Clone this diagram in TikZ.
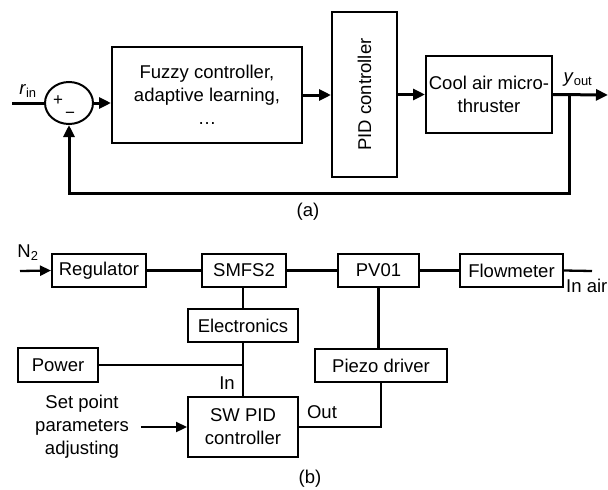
\documentclass[tikz,border=0pt]{standalone}
\usepackage{fontspec}
\setmainfont{Liberation Sans}
\usetikzlibrary{positioning, arrows.meta, shapes.geometric}

\tikzset{
	block/.style={draw, line width=2pt, inner sep=0pt, align=center, font=\fontsize{18.5}{23}\selectfont},
	lbl/.style={inner sep=0pt, font=\fontsize{18.5}{23}\selectfont},
	sig/.style={line width=3pt, -{Triangle[length=12pt,width=11pt]}},
	pipe/.style={line width=2.3pt},
}

\begin{document}
\begin{tikzpicture}[x=1pt, y=-1pt]
	\useasboundingbox (0,0) rectangle (608,490);

		% nodes - for loop (a) %
		\node[draw, ellipse, line width=2pt, minimum width=48pt, minimum height=42pt, inner sep=0pt] (sum) at (69,103) {};
		\node[lbl, font=\fontsize{17}{17}\selectfont] (plus) at (58,101) {+};
		\node[lbl, font=\fontsize{17}{17}\selectfont] (minus) at (70,115) {−};
		\node[block, minimum width=190pt, minimum height=96pt] (fuzzy) at (207,95) {Fuzzy controller,\\adaptive learning,\\…};
		\node[block, minimum width=65pt, minimum height=165pt] (pid) at (364.5,94.5) {};
		\node[lbl, rotate=90] (pidtext) at (pid.center) {PID controller};
		\node[block, minimum width=126pt, minimum height=77pt] (cool) at (489,94.5) {Cool air micro-\\thruster};
		\node[lbl] (rin) at (28,91) {\textit{r}\textsubscript{in}};
		\node[lbl] (yout) at (578,80) {\textit{y}\textsubscript{out}};
		\node[lbl] (capa) at (308,212) {(a)};
		\coordinate (start) at (12,103);
		\coordinate (end) at (608,95);
		\coordinate (fb) at (569,95);
		\coordinate (fbdown) at (569,193);

		% edges %
		\draw[line width=3pt] (start) -- (sum.west);
		\draw[sig] (sum.east) -- (sum.east -| fuzzy.west);
		\draw[sig] (fuzzy.east) -- (pid.west |- fuzzy.east);
		\draw[sig] (pid.east |- cool.west) -- (cool.west);
		\draw[sig] (cool.east) -- (end);
		\draw[sig] (fb) -- (fbdown) -| (sum.south);

		% nodes - for set-up (b) %
		\node[block, minimum width=94pt, minimum height=33pt] (reg) at (99,270.5) {Regulator};
		\node[block, minimum width=84pt, minimum height=33pt] (smfs) at (244,270.5) {SMFS2};
		\node[block, minimum width=81pt, minimum height=33pt] (pv) at (378.5,270.5) {PV01};
		\node[block, minimum width=103pt, minimum height=33pt] (flow) at (511.5,270.5) {Flowmeter};
		\node[block, minimum width=110pt, minimum height=33pt] (elec) at (243,325.5) {Electronics};
		\node[block, minimum width=80pt, minimum height=34pt] (power) at (58,365) {Power};
		\node[block, minimum width=132pt, minimum height=33pt] (piezo) at (381,365.5) {Piezo driver};
		\node[block, minimum width=110pt, minimum height=60pt] (swpid) at (243,427) {SW PID\\controller};
		\node[lbl, align=center] (setpt) at (82,427) {Set point\\parameters\\adjusting};
		\node[lbl] (ntwo) at (28,253) {N\textsubscript{2}};
		\node[lbl, anchor=west] (inair) at (566,286) {In air};
		\node[lbl] (inlbl) at (227,383) {In};
		\node[lbl] (outlbl) at (322,412) {Out};
		\node[lbl] (capb) at (310,479) {(b)};
		\coordinate (gas) at (20,271);
		\coordinate (air) at (592,271);

		% edges %
		\draw[pipe, -{Triangle[length=11pt,width=10pt]}] (gas) -- (reg.west);
		\draw[pipe] (reg.east) -- (smfs.west);
		\draw[pipe] (smfs.east) -- (pv.west);
		\draw[pipe] (pv.east) -- (flow.west);
		\draw[pipe] (flow.east) -- (air);
		\draw[pipe] (smfs.south -| elec.north) -- (elec.north);
		\draw[pipe] (elec.south) -- (swpid.north);
		\draw[pipe] (power.east) -- (power.east -| elec.south);
		\draw[pipe] (pv.south) -- (pv.south |- piezo.north);
		\draw[pipe] (swpid.east) -| (piezo.south);
		\draw[pipe, shorten <=12pt, -{Triangle[length=11pt,width=10pt]}] (setpt.east |- swpid.west) -- (swpid.west);

		\end{tikzpicture}
\end{document}
